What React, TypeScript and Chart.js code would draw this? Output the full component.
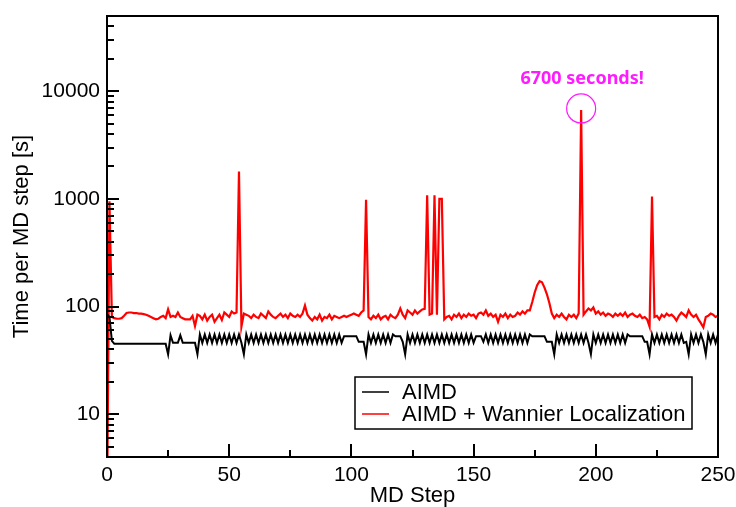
import React, { useEffect, useRef } from 'react';
import { Chart, registerables } from 'chart.js';

Chart.register(...registerables);

// ---------- data ----------
const SERIES_LABELS = ['AIMD', 'AIMD + Wannier Localization'];

const AIMD: number[] = [
  85, 80, 48, 45, 45, 45, 45, 45, 45, 45,
  45, 45, 45, 45, 45, 45, 45, 45, 45, 45,
  45, 45, 45, 45, 45, 36, 54, 46, 46, 46,
  54, 46, 46, 46, 46, 46, 46, 36, 55, 46,
  55, 46, 55, 46, 55, 46, 55, 46, 55, 46,
  55, 46, 55, 46, 55, 46, 36, 55, 46, 55,
  46, 55, 46, 55, 46, 55, 46, 55, 46, 55,
  46, 55, 46, 55, 46, 55, 46, 55, 46, 55,
  46, 55, 46, 55, 46, 55, 46, 55, 46, 55,
  46, 55, 46, 55, 46, 55, 46, 53, 53, 53,
  53, 53, 53, 47, 47, 47, 36, 55, 46, 55,
  46, 55, 46, 55, 46, 55, 46, 55, 53, 53,
  53, 47, 36, 55, 46, 55, 46, 55, 46, 55,
  46, 55, 46, 55, 46, 55, 46, 55, 46, 55,
  46, 55, 46, 55, 46, 55, 46, 55, 46, 55,
  46, 53, 53, 53, 47, 55, 46, 55, 46, 55,
  46, 55, 46, 55, 46, 55, 46, 55, 46, 55,
  46, 55, 46, 55, 53, 53, 53, 53, 53, 53,
  47, 47, 47, 36, 55, 46, 55, 46, 55, 46,
  55, 46, 55, 46, 55, 46, 55, 46, 36, 55,
  46, 55, 46, 55, 46, 55, 46, 55, 46, 55,
  46, 55, 46, 55, 53, 53, 53, 53, 53, 53,
  47, 47, 36, 55, 46, 55, 46, 55, 46, 55,
  46, 55, 46, 55, 46, 55, 46, 47, 36, 55,
  46, 55, 46, 55, 47, 36, 55, 46, 55, 46,
  55,
];

const AIMD_WANNIER: number[] = [
  1, 950, 80, 78, 77, 77, 78, 82, 87, 88,
  88, 87, 87, 86, 86, 85, 84, 82, 80, 78,
  76, 77, 80, 82, 78, 94, 80, 82, 80, 88,
  80, 78, 76, 76, 76, 82, 66, 84, 82, 76,
  84, 74, 80, 84, 72, 78, 84, 75, 88, 84,
  80, 90, 86, 88, 1800, 65, 86, 84, 82, 78,
  84, 80, 78, 86, 82, 78, 90, 84, 80, 78,
  82, 86, 80, 84, 78, 86, 82, 80, 84, 80,
  86, 102, 84, 78, 74, 80, 76, 84, 74, 80,
  78, 84, 76, 82, 80, 78, 80, 82, 80, 82,
  84, 86, 84, 82, 88, 92, 980, 80, 76, 82,
  78, 84, 76, 80, 82, 76, 84, 80, 78, 84,
  96, 84, 78, 92, 88, 84, 92, 86, 90, 94,
  95, 1080, 84, 86, 1080, 84, 1000, 1000, 76, 80,
  82, 76, 84, 80, 86, 78, 84, 80, 86, 82,
  84, 78, 86, 88, 84, 92, 82, 86, 80, 84,
  72, 84, 80, 86, 78, 84, 80, 82, 88, 84,
  90, 86, 92, 92, 110, 135, 158, 172, 168, 150,
  130, 108, 86, 78, 84, 80, 86, 80, 76, 84,
  80, 84, 78, 86, 6700, 84, 90, 96, 92, 98,
  86, 90, 84, 88, 82, 86, 84, 80, 86, 82,
  86, 82, 88, 80, 84, 86, 82, 80, 84, 78,
  80, 76, 65, 1050, 80, 82, 76, 84, 80, 86,
  82, 84, 80, 74, 82, 88, 84, 80, 92, 84,
  80, 84, 76, 70, 64, 80, 82, 86, 84, 80,
  82,
];

const STEPS: number[] = AIMD.map((_, i) => i);

const X_TICKS = [0, 50, 100, 150, 200, 250];
const X_MINOR = [25, 75, 125, 175, 225];
const Y_TICKS = [10, 100, 1000, 10000];
const Y_MINOR = [
  4, 5, 6, 7, 8, 9,
  20, 30, 40, 50, 60, 70, 80, 90,
  200, 300, 400, 500, 600, 700, 800, 900,
  2000, 3000, 4000, 5000, 6000, 7000, 8000, 9000,
  20000, 30000, 40000,
];

const ANNOTATION_STEP = 194;
const ANNOTATION_VALUE = 6700;
const ANNOTATION_TEXT = '6700 seconds!';

const X_TITLE = 'MD Step';
const Y_TITLE = 'Time per MD step [s]';

const FONT = "'Liberation Sans', Arial, Helvetica, sans-serif";
const MAGENTA = '#ff1aff';

const decorPlugin = {
  id: 'decor',
  afterDraw(chart: any) {
    const { ctx, chartArea: a, scales } = chart;
    const xs = scales.x;
    const ys = scales.y;
    ctx.save();
    ctx.strokeStyle = '#000';
    ctx.lineWidth = 2;
    ctx.beginPath();
    for (const v of Y_TICKS) {
      const y = Math.round(ys.getPixelForValue(v));
      ctx.moveTo(a.left, y);
      ctx.lineTo(a.left + 12, y);
    }
    for (const v of Y_MINOR) {
      const y = Math.round(ys.getPixelForValue(v));
      ctx.moveTo(a.left, y);
      ctx.lineTo(a.left + 7, y);
    }
    for (const v of X_TICKS) {
      const x = Math.round(xs.getPixelForValue(v));
      ctx.moveTo(x, a.bottom);
      ctx.lineTo(x, a.bottom - 13);
    }
    for (const v of X_MINOR) {
      const x = Math.round(xs.getPixelForValue(v));
      ctx.moveTo(x, a.bottom);
      ctx.lineTo(x, a.bottom - 7);
    }
    ctx.stroke();
    ctx.strokeRect(a.left, a.top, a.right - a.left, a.bottom - a.top);

    // legend box
    const lx = 355, ly = 377, lw = 337, lh = 52;
    ctx.fillStyle = '#fff';
    ctx.fillRect(lx, ly, lw, lh);
    ctx.lineWidth = 1.5;
    ctx.strokeRect(lx, ly, lw, lh);
    const rows = [392, 414];
    chart.data.datasets.forEach((ds: any, i: number) => {
      ctx.strokeStyle = ds.borderColor;
      ctx.lineWidth = 1.5;
      ctx.beginPath();
      ctx.moveTo(362, rows[i]);
      ctx.lineTo(389, rows[i]);
      ctx.stroke();
      ctx.fillStyle = '#000';
      ctx.font = `22px ${FONT}`;
      ctx.textAlign = 'left';
      ctx.textBaseline = 'middle';
      ctx.fillText(ds.label, 402, rows[i] + 1);
    });

    // annotation
    const cx = xs.getPixelForValue(ANNOTATION_STEP);
    const cy = ys.getPixelForValue(ANNOTATION_VALUE) - 1.5;
    ctx.strokeStyle = MAGENTA;
    ctx.lineWidth = 1.2;
    ctx.beginPath();
    ctx.arc(cx, cy, 14.5, 0, Math.PI * 2);
    ctx.stroke();
    ctx.fillStyle = MAGENTA;
    ctx.font = `bold 18px 'Noto Sans', 'Open Sans', sans-serif`;
    ctx.textAlign = 'center';
    ctx.textBaseline = 'middle';
    ctx.fillText(ANNOTATION_TEXT, cx + 1, cy - 30);
    ctx.restore();
  },
};

export default function App() {
  const ref = useRef<HTMLCanvasElement>(null);
  useEffect(() => {
    document.body.style.margin = '0';
    const canvas = ref.current;
    if (!canvas) return;
    const chart = new Chart(canvas, {
      type: 'line',
      data: {
        datasets: [
          {
            label: SERIES_LABELS[0],
            data: STEPS.map((s, i) => ({ x: s, y: AIMD[i] })),
            borderColor: '#000000',
            borderWidth: 2,
            pointRadius: 0,
            tension: 0,
          },
          {
            label: SERIES_LABELS[1],
            data: STEPS.map((s, i) => ({ x: s, y: AIMD_WANNIER[i] })),
            borderColor: '#ff0000',
            borderWidth: 2.2,
            pointRadius: 0,
            tension: 0,
          },
        ],
      },
      options: {
        animation: false,
        responsive: false,
        devicePixelRatio: 1,
        layout: { padding: { top: 16, right: 18, left: 0, bottom: 0 } },
        plugins: { legend: { display: false }, tooltip: { enabled: false } },
        scales: {
          x: {
            type: 'linear',
            min: 0,
            max: 250,
            grid: { display: false, drawTicks: false },
            border: { display: false },
            afterBuildTicks: (s: any) => {
              s.ticks = X_TICKS.map((v) => ({ value: v }));
            },
            afterFit: (s: any) => {
              s.height = 50;
              s.paddingLeft = 0;
              s.paddingRight = 0;
            },
            ticks: {
              font: { size: 21, family: FONT },
              color: '#000',
              padding: 6,
              maxRotation: 0,
              autoSkip: false,
              callback: (v: any) => String(v),
            },
            title: {
              display: true,
              text: X_TITLE,
              color: '#000',
              font: { size: 22, family: FONT, lineHeight: 1 },
              padding: { top: 0, bottom: 0 },
            },
          },
          y: {
            type: 'logarithmic',
            min: 4,
            max: 50000,
            grid: { display: false, drawTicks: false },
            border: { display: false },
            afterBuildTicks: (s: any) => {
              s.ticks = Y_TICKS.map((v) => ({ value: v }));
            },
            afterFit: (s: any) => {
              s.width = 107;
              s.paddingTop = 0;
              s.paddingBottom = 0;
            },
            ticks: {
              font: { size: 21, family: FONT },
              color: '#000',
              padding: 7,
              autoSkip: false,
              callback: (v: any) => String(v),
            },
            title: {
              display: true,
              text: Y_TITLE,
              color: '#000',
              font: { size: 22, family: FONT, lineHeight: 1 },
              padding: { top: 11, bottom: 0 },
            },
          },
        },
      },
      plugins: [decorPlugin],
    });
    return () => chart.destroy();
  }, []);
  return (
    <div style={{ width: 736, height: 507 }}>
      <canvas ref={ref} width={736} height={507} style={{ display: 'block' }} />
    </div>
  );
}
